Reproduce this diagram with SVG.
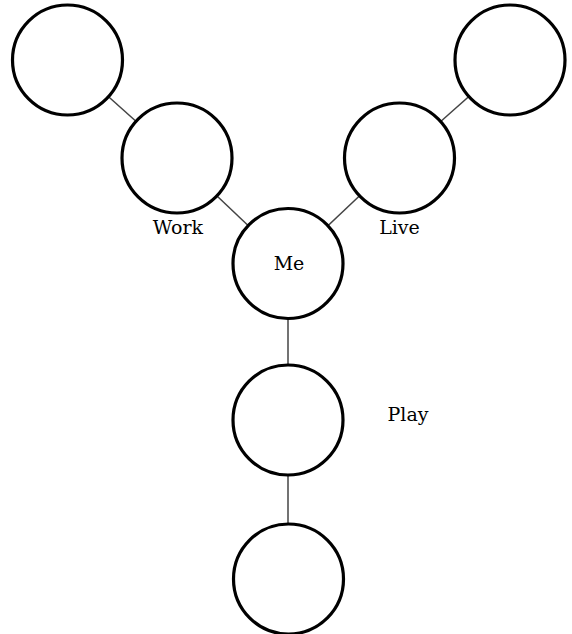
<svg xmlns="http://www.w3.org/2000/svg" width="572" height="634" viewBox="0 0 572 634">
<style>
.node{fill:#fff;stroke:#000;stroke-width:3.2}
.edge{stroke:#444;stroke-width:1.5;fill:none}
.lbl{font-family:"DejaVu Serif","Liberation Serif",serif;font-size:19px;fill:#000}
</style>
<rect width="572" height="634" fill="#fff"/>
<g id="connectors">
<line class="edge" x1="67.5" y1="60" x2="177" y2="158"/>
<line class="edge" x1="177" y1="158" x2="288" y2="263.5"/>
<line class="edge" x1="510" y1="60" x2="399.5" y2="158"/>
<line class="edge" x1="399.5" y1="158" x2="288" y2="263.5"/>
<line class="edge" x1="288" y1="263.5" x2="288" y2="420"/>
<line class="edge" x1="288" y1="420" x2="288" y2="579"/>
</g>
<g id="work-outer"><circle class="node" cx="67.5" cy="60" r="55"/></g>
<g id="work"><circle class="node" cx="177" cy="158" r="55"/></g>
<g id="live-outer"><circle class="node" cx="510" cy="60" r="55"/></g>
<g id="live"><circle class="node" cx="399.5" cy="158" r="55"/></g>
<g id="me"><circle class="node" cx="288" cy="263.5" r="55"/><text class="lbl" x="289" y="270" text-anchor="middle">Me</text></g>
<g id="play"><circle class="node" cx="288" cy="420" r="55"/></g>
<g id="play-outer"><circle class="node" cx="288.5" cy="579" r="55"/></g>
<g id="labels">
<text class="lbl" x="178" y="234" text-anchor="middle">Work</text>
<text class="lbl" x="399.5" y="234" text-anchor="middle">Live</text>
<text class="lbl" x="408" y="421" text-anchor="middle">Play</text>
</g>
</svg>
